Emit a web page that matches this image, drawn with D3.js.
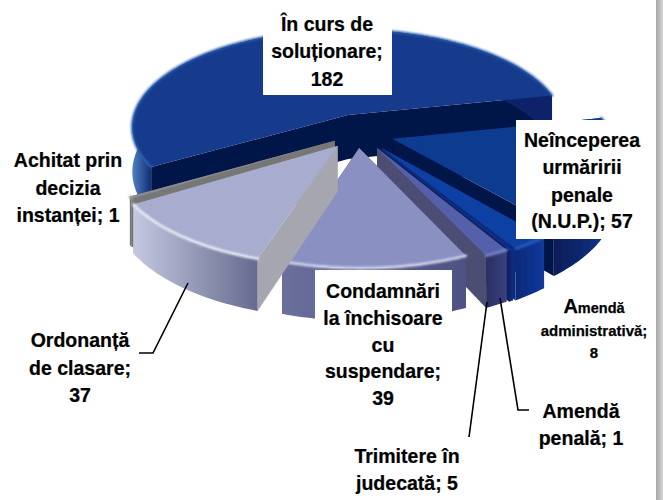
<!DOCTYPE html>
<html><head><meta charset="utf-8">
<script src="https://cdn.jsdelivr.net/npm/d3@7"></script>
<style>html,body{margin:0;padding:0;background:#fff}svg{display:block}text{font-family:"Liberation Sans",Arial,sans-serif;font-weight:bold;fill:#000;stroke:#000;stroke-width:.25}</style>
</head><body><svg id="c" width="663" height="500"></svg>
<script>
const categories = ["În curs de soluționare","Neînceperea urmăririi penale (N.U.P.)","Amendă administrativă","Amendă penală","Trimitere în judecată","Condamnări la închisoare cu suspendare","Ordonanță de clasare","Achitat prin decizia instanței"];
const values = [182,57,8,1,5,39,37,1];
const topColors = ["#143a8c","#113a90","#0f3fa3","#0b2f86","#5461ab","#8a90c2","#a8acce","#8a8a90"];
const rimColors = ["#2c5cac","#2450a8","#2a5cc0","#0b2f86","#7a86c8","#d8dcf0","#eef0fa","#a0a0a6"];
const wallLight = ["#4f82c4","#12388c","#12389c","#0b2f86","#3a4080","#6a6f9c","#c4c8e0","#8a8a8a"];
const wallDark  = ["#0a2468","#081c58","#0c2a78","#08206a","#2a2f62","#4e5282","#666a8e","#6e6e6e"];
const cutColors = ["#03124a","#03124a","#0a2a80","#08205f","#4b4d72","#4b4f80","#a6a6b0","#777777"];
const offsets = [[0,0],[.2,.24],[.15,.33],[.14,.33],[.13,.33],[.05,.33],[-.047,.31],[-.06,.26]];
const labels = [
 {lines:["În curs de","soluționare;","182"],x:327,y:[31,58,86],box:[263,0,129,95]},
 {lines:["Neînceperea","urmăririi","penale","(N.U.P.); 57"],x:582,y:[147,174,202,228],box:[516,120,132,119]},
 {lines:["Condamnări","la închisoare","cu","suspendare;","39"],x:383,y:[298,325,352,378,405],box:[315,270,137,142]},
 {lines:["Achitat prin","decizia","instanței; 1"],x:68,y:[167,195,222]},
 {lines:["Ordonanță","de clasare;","37"],x:80,y:[347,375,402]},
 {lines:["Trimitere în","judecată; 5"],x:407,y:[463,490]},
 {lines:["Amendă","penală; 1"],x:581,y:[418,445]}
];
const leaders = [[[188,283],[153,353],[139,353]],[[487,302],[469,437]],[[500,298],[518,410],[529,410]]];

const svg = d3.select("#c");
const defs = svg.append("defs");
const cx=348, cy=115, rx=214, ry=96, dist=8, depth=44;
const startDeg=78;
const pie = d3.pie().sort(null).value(d=>d)
  .startAngle(startDeg*Math.PI/180).endAngle((startDeg+360)*Math.PI/180);
const order=[1,2,3,4,5,6,7,0];
const arcs = pie(order.map(i=>values[i]));
const sliceArc = categories.map(()=>null);
order.forEach((i,k)=>sliceArc[i]=arcs[k]);

const proj=(u,v,h=0)=>{const s=dist/(dist-v);return [cx+rx*u*s, cy+ry*v*s+h*s];};
const pt=(a,o,h)=>proj(o[0]+Math.sin(a),o[1]-Math.cos(a),h);
const line=d3.line();
const arcPts=(a0,a1,o,h)=>{const n=Math.max(2,Math.ceil((a1-a0)/0.02));return d3.range(n+1).map(i=>pt(a0+(a1-a0)*i/n,o,h));};

defs.append("filter").attr("id","soft").attr("filterUnits","userSpaceOnUse").attr("x",0).attr("y",0).attr("width",663).attr("height",500)
  .append("feGaussianBlur").attr("stdDeviation",1.2);
defs.append("filter").attr("id","edge").attr("filterUnits","userSpaceOnUse").attr("x",0).attr("y",0).attr("width",663).attr("height",500)
  .append("feGaussianBlur").attr("stdDeviation",0.45);

const paint=[0,1,2,3,4,5,7,6];
const pieG=svg.append("g").attr("filter","url(#edge)");
paint.forEach(i=>{
  const d=sliceArc[i], o=offsets[i], g=pieG.append("g");
  const a0=d.startAngle,a1=d.endAngle;
  const apexT=proj(o[0],o[1],0), apexB=proj(o[0],o[1],depth);
  [a0,a1].forEach(a=>{
    g.append("path").attr("fill",cutColors[i])
     .attr("d",line([apexT,pt(a,o,0),pt(a,o,depth),apexB])+"Z");
  });
  const top=arcPts(a0,a1,o,0), bot=arcPts(a0,a1,o,depth).reverse();
  const xs=top.map(p=>p[0]);
  const gid="w"+i;
  const grad=defs.append("linearGradient").attr("id",gid).attr("gradientUnits","userSpaceOnUse")
    .attr("x1",d3.min(xs)).attr("x2",d3.max(xs)).attr("y1",0).attr("y2",0);
  const leftLit = (i===0||i===6||i===5);
  if(i===0){
    grad.append("stop").attr("offset",0).attr("stop-color",wallLight[i]);
    grad.append("stop").attr("offset",0.05).attr("stop-color",wallDark[i]);
    grad.append("stop").attr("offset",1).attr("stop-color",wallDark[i]);
  }else{
    grad.append("stop").attr("offset",0).attr("stop-color",leftLit?wallLight[i]:wallDark[i]);
    grad.append("stop").attr("offset",1).attr("stop-color",leftLit?wallDark[i]:wallLight[i]);
  }
  g.append("path").attr("fill",`url(#${gid})`).attr("d",line(top.concat(bot))+"Z");
  g.append("path").attr("fill",topColors[i]).attr("d",line([apexT].concat(top))+"Z");
  g.append("path").attr("fill","none").attr("stroke",rimColors[i]).attr("stroke-width",2.5)
   .attr("stroke-linecap","round").attr("filter","url(#soft)").attr("d",line(top));
});

labels.filter(l=>l.box).forEach(l=>{
  svg.append("rect").attr("x",l.box[0]).attr("y",l.box[1]).attr("width",l.box[2]).attr("height",l.box[3]).attr("fill","#fff");
});
leaders.forEach(p=>svg.append("path").attr("fill","none").attr("stroke","#000").attr("stroke-width",1.6).attr("d",line(p)));
labels.forEach(l=>{
  l.lines.forEach((s,k)=>svg.append("text").attr("transform",`translate(${l.x},${l.y[k]}) scale(.93,1)`)
    .attr("text-anchor","middle").attr("font-size",21).text(s));
});
const am=svg.append("text").attr("x",594).attr("y",313).attr("text-anchor","middle");
am.append("tspan").attr("font-size",20).text("A");
am.append("tspan").attr("font-size",14.5).text("mendă");
svg.append("text").attr("x",594).attr("y",336).attr("text-anchor","middle").attr("font-size",15).text("administrativă;");
svg.append("text").attr("x",594).attr("y",358).attr("text-anchor","middle").attr("font-size",15).text("8");
const eg=defs.append("linearGradient").attr("id","pageEdge");
eg.append("stop").attr("offset",0).attr("stop-color","#a8a8a8");
eg.append("stop").attr("offset",1).attr("stop-color","#d4d4d4");
svg.append("rect").attr("x",656).attr("y",0).attr("width",7).attr("height",500).attr("fill","url(#pageEdge)");
</script></body></html>
